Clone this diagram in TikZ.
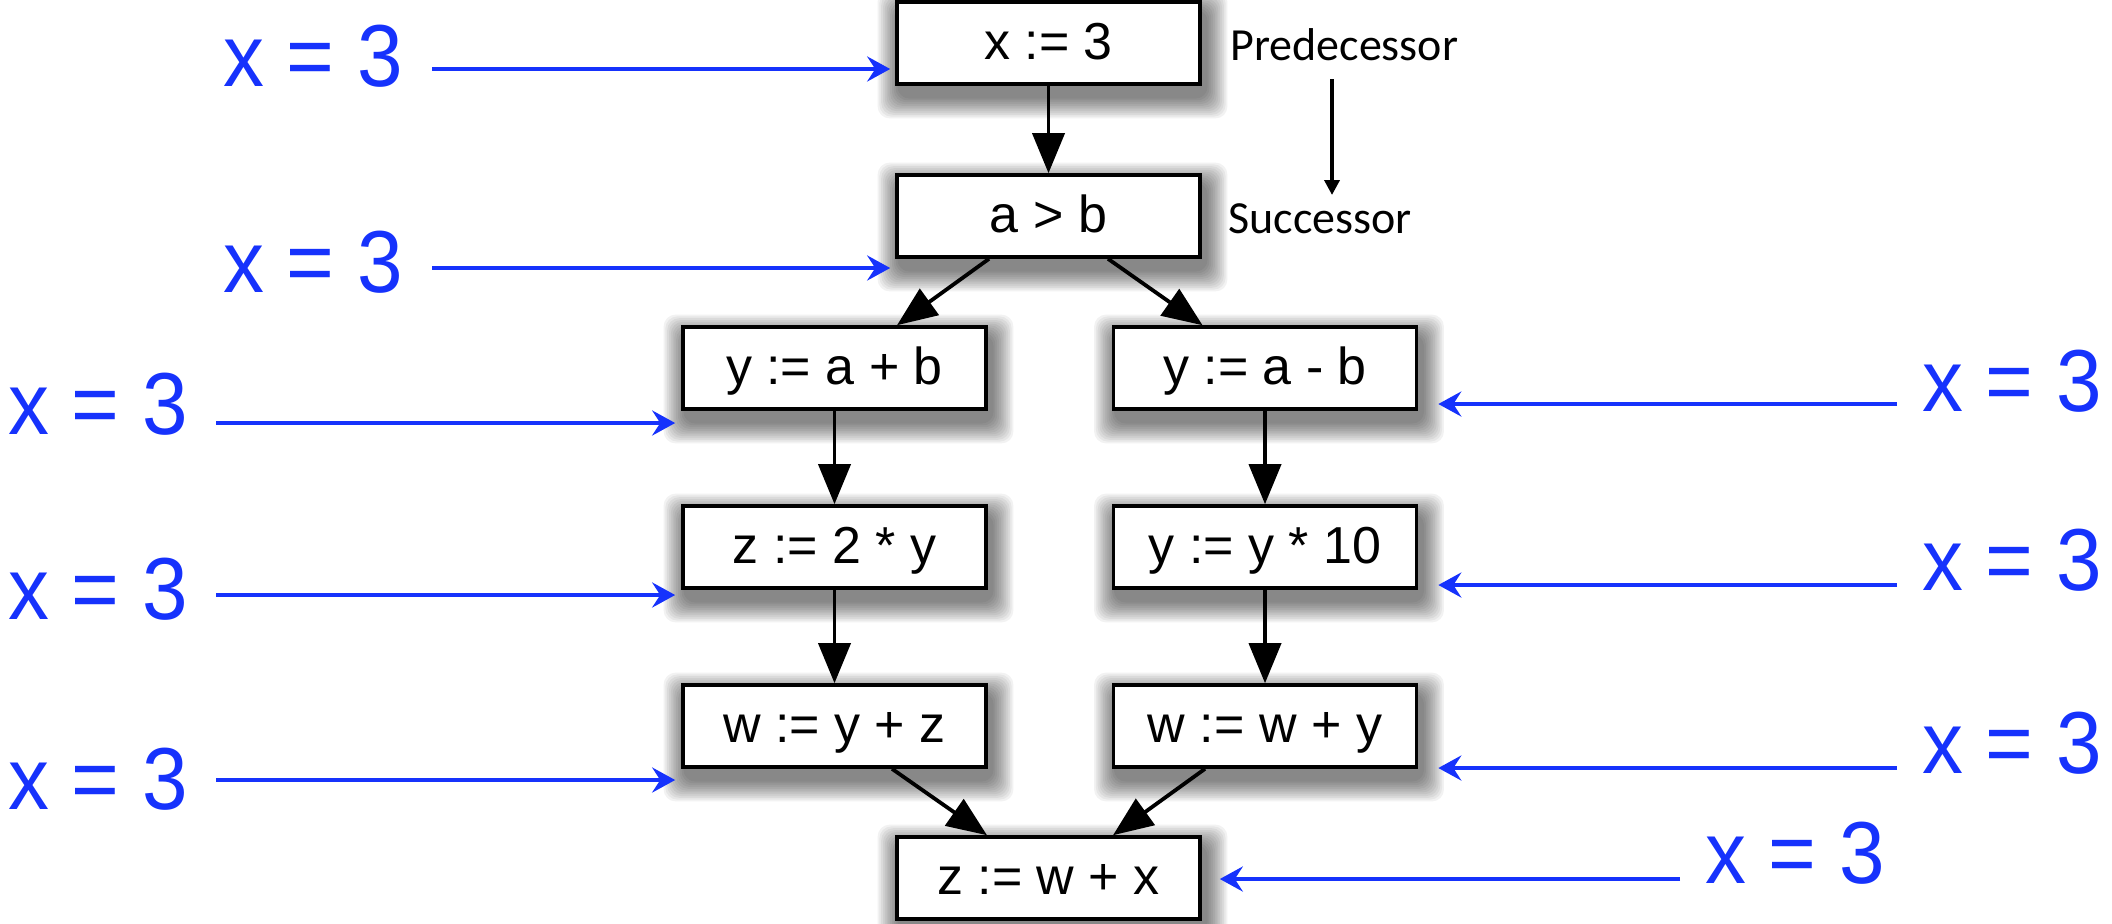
\documentclass[tikz,border=0pt]{standalone}
\usepackage{fontspec}
\setmainfont{Liberation Sans}
\newfontfamily\calib{Carlito}
\usetikzlibrary{arrows.meta}
\pgfdeclarelayer{shadowlayer}
\pgfsetlayers{shadowlayer,main}
\definecolor{flowblue}{RGB}{22,50,252}
\begin{document}
\begin{tikzpicture}[x=0.5pt,y=-0.5pt,
  stmt/.style={draw=black, line width=1.8pt, fill=white,
    minimum width=151.5pt, minimum height=41pt, inner sep=0pt,
    text height=19.5pt, text depth=3pt,
    font=\fontsize{26}{26}\selectfont},
  val/.style={text=flowblue, inner sep=0pt, anchor=base,
    font=\fontsize{44}{44}\selectfont},
  flow/.style={draw=black, line width=1.9pt,
    -{Triangle[length=20pt,width=16pt]}},
  info/.style={draw=flowblue, line width=2.2pt,
    -{Stealth[length=11.5pt,width=12.5pt,inset=4pt]}},
  note/.style={inner sep=0pt, anchor=base west,
    font=\calib\fontsize{23}{23}\selectfont},
  order/.style={draw=black, line width=1.8pt,
    -{Triangle[length=7.5pt,width=7.5pt]}},
  shade/.style={fill=black, opacity=0.05, rounded corners=6pt}]
\useasboundingbox (0,0) rectangle (2112,923);

% statements
\node[stmt] (n1) at (1048.5,43)  {x := 3};
\node[stmt] (n2) at (1048.5,216) {a > b};
\node[stmt] (l1) at (834.5,368)  {y := a + b};
\node[stmt] (r1) at (1265,368)   {y := a - b};
\node[stmt] (l2) at (834.5,547)  {z := 2 * y};
\node[stmt] (r2) at (1265,547)   {y := y * 10};
\node[stmt] (l3) at (834.5,726)  {w := y + z};
\node[stmt] (r3) at (1265,726)   {w := w + y};
\node[stmt] (n3) at (1048.5,878) {z := w + x};

% soft drop shadows
\begin{pgfonlayer}{shadowlayer}
\foreach \n in {n1,n2,l1,r1,l2,r2,l3,r3,n3}{
  \foreach \i in {1,...,12}{
    \fill[shade] ([shift={(4-\i*1.8,11+\i*1.8)}]\n.south west)
      rectangle ([shift={(4+\i*1.8,11-\i*1.8)}]\n.north east);
  }
}
\end{pgfonlayer}

% control flow
\draw[flow] (n1) -- (n2);
\draw[flow] ([xshift=-29.75pt]n2.south) -- ([xshift=31.25pt]l1.north);
\draw[flow] ([xshift=29.75pt]n2.south) -- ([xshift=-31.25pt]r1.north);
\draw[flow] (l1) -- (l2);
\draw[flow] (l2) -- (l3);
\draw[flow] (r1) -- (r2);
\draw[flow] (r2) -- (r3);
\draw[flow] ([xshift=28.75pt]l3.south) -- ([xshift=-30.75pt]n3.north);
\draw[flow] ([xshift=-30pt]r3.south) -- ([xshift=32.25pt]n3.north);

% predecessor / successor legend
\node[note] (pred) at (1230,60)  {Predecessor};
\node[note] (succ) at (1228,233) {Successor};
\coordinate (pa) at (1332,79);
\coordinate (pb) at (1332,195);
\draw[order] (pa) -- (pb);

% dataflow facts
\node[val] (v1) at (313,86)   {\scalebox{0.93}[1]{x = 3}};
\node[val] (v2) at (313,292)  {\scalebox{0.93}[1]{x = 3}};
\node[val] (v3) at (98,434)   {\scalebox{0.93}[1]{x = 3}};
\node[val] (v4) at (98,619)   {\scalebox{0.93}[1]{x = 3}};
\node[val] (v5) at (98,809)   {\scalebox{0.93}[1]{x = 3}};
\node[val] (v6) at (2012,411) {\scalebox{0.93}[1]{x = 3}};
\node[val] (v7) at (2012,590) {\scalebox{0.93}[1]{x = 3}};
\node[val] (v8) at (2012,773) {\scalebox{0.93}[1]{x = 3}};
\node[val] (v9) at (1795,883) {\scalebox{0.93}[1]{x = 3}};

\coordinate (s1) at (432,69);
\coordinate (s2) at (432,268);
\coordinate (s3) at (216,423);
\coordinate (s4) at (216,595);
\coordinate (s5) at (216,780);
\coordinate (s6) at (1897,404);
\coordinate (s7) at (1897,585);
\coordinate (s8) at (1897,768);
\coordinate (s9) at (1680,879);

\draw[info, shorten >=2.5pt] (s1) -- (s1 -| n1.west);
\draw[info, shorten >=2.5pt] (s2) -- (s2 -| n2.west);
\draw[info, shorten >=3pt] (s3) -- (s3 -| l1.west);
\draw[info, shorten >=3pt] (s4) -- (s4 -| l2.west);
\draw[info, shorten >=3pt] (s5) -- (s5 -| l3.west);
\draw[info, shorten >=10pt] (s6) -- (s6 -| r1.east);
\draw[info, shorten >=10pt] (s7) -- (s7 -| r2.east);
\draw[info, shorten >=10pt] (s8) -- (s8 -| r3.east);
\draw[info, shorten >=9pt] (s9) -- (s9 -| n3.east);
\end{tikzpicture}
\end{document}
